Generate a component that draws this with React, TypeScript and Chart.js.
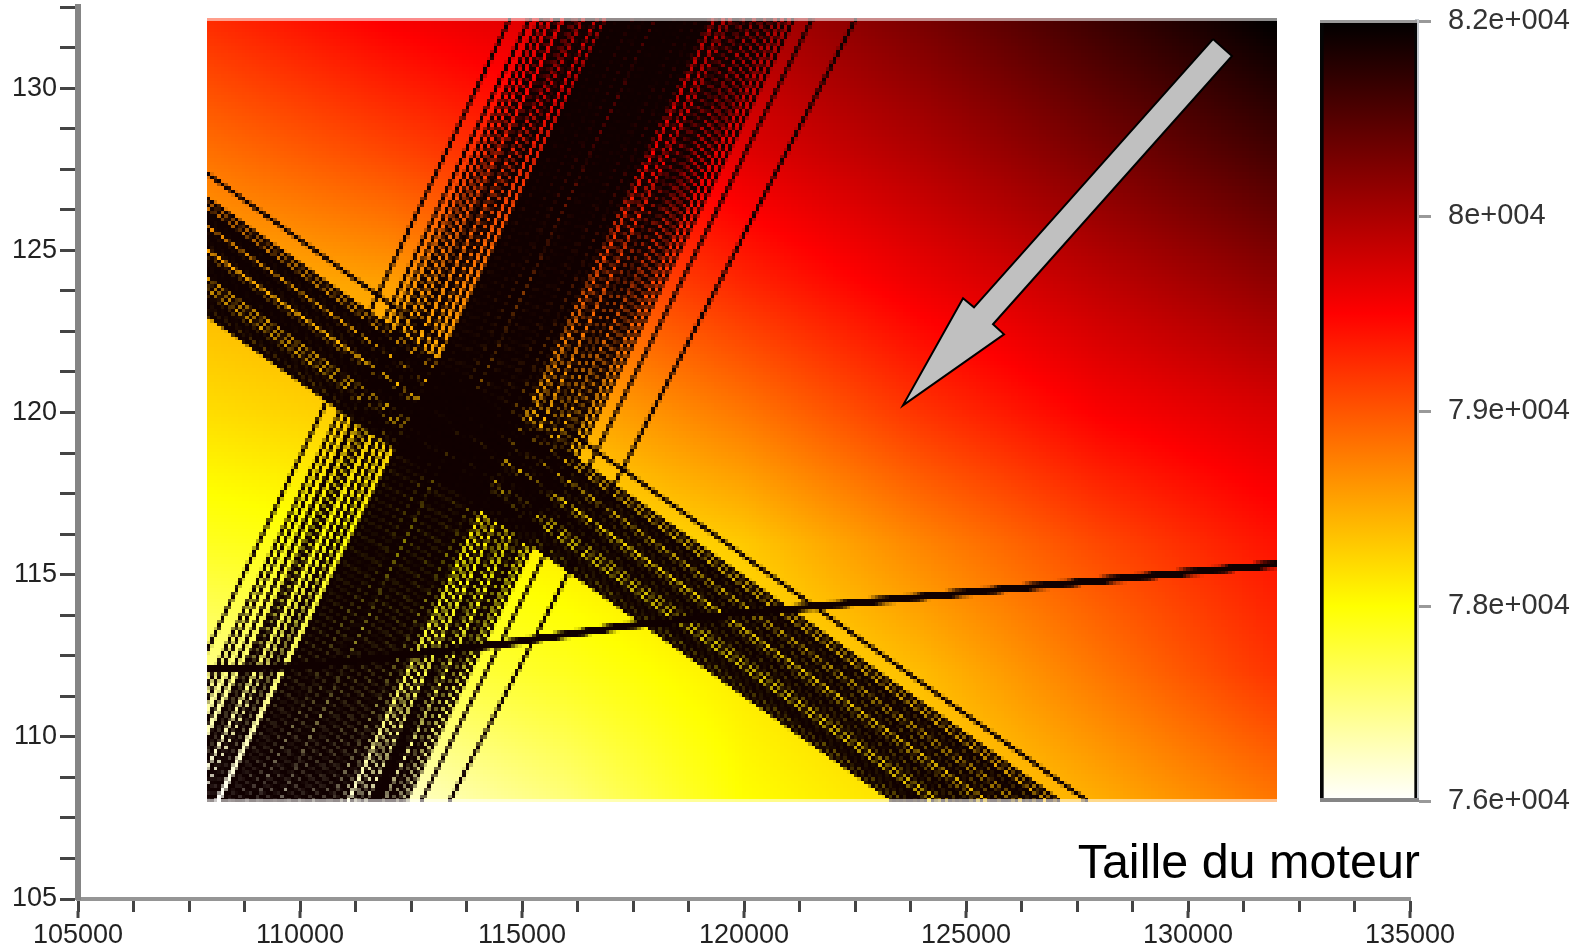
import React, { useEffect, useRef } from "react";
import { Chart, registerables } from "chart.js";

Chart.register(...registerables);

// Axis ranges and ticks
const xAxisMin = 105000;
const xAxisMax = 135000;
const xTickStep = 1250;
const xLabelStep = 5000;
const yAxisMin = 105;
const yAxisMax = 132.5;
const yTickStep = 1.25;
const yLabelStep = 5;
const axisTitle = "Taille du moteur";

// Response surface
const heatXMin = 107905;
const heatXMax = 132000;
const heatYMin = 108;
const heatYMax = 132.15;
const gridX = [108000, 112000, 116000, 120000, 124000, 128000, 132000];
const gridY = [132, 128, 124, 120, 116, 112, 108];
const gridRow132 = [79360, 79780, 80080, 80440, 80920, 81460, 82000];
const gridRow128 = [78760, 79120, 79540, 80020, 80440, 80920, 81400];
const gridRow124 = [78160, 78340, 78880, 79420, 79900, 80320, 80740];
const gridRow120 = [77800, 77980, 78220, 78700, 79300, 79780, 80080];
const gridRow116 = [77320, 77500, 77680, 77980, 78580, 79120, 79600];
const gridRow112 = [76720, 77020, 77320, 77680, 78100, 78700, 79300];
const gridRow108 = [76000, 76300, 76780, 77500, 77800, 78220, 78700];
const gridValues = [gridRow132, gridRow128, gridRow124, gridRow120, gridRow116, gridRow112, gridRow108];

// Colour scale
const cmapValues = [76000, 77500, 79750, 82000];
const cmapColors = [[255, 255, 255], [255, 255, 0], [255, 0, 0], [0, 0, 0]];
const cbarTicks = [76000, 77500, 79000, 80500, 82000];
const cbarLabels = ["7.6e+004", "7.8e+004", "7.9e+004", "8e+004", "8.2e+004"];

// Rising constraint lines, outer groups: x at y = 132 and x at y = 108
const risingTopX = [
  114729, 115170, 115420, 115560, 115740, 115830, 116010, 116090, 116190, 116300, 116440, 116520, 116600, 116740, 116810, 116930,
  119250, 119410, 119480, 119640, 119770, 119860, 119960, 120080, 120160, 120300, 120400, 120530, 120640, 120780, 120950, 121130, 121540, 122520,
];
const risingBottomX = [
  106285, 106660, 106800, 107060, 107010, 107260, 107320, 107480, 107410, 107680, 107620, 107880, 107790, 108040, 107960, 108250,
  111170, 111280, 111430, 111390, 111550, 111620, 111730, 111680, 111830, 111790, 111950, 112010, 112110, 112140, 112250, 112370, 112730, 113370,
];

// Rising constraint lines, dense core
const coreTopX = [
  117000, 117085, 117180, 117260, 117350, 117430, 117530, 117600, 117690, 117790, 117860, 117940, 118050,
  118120, 118210, 118300, 118380, 118470, 118550, 118640, 118740, 118810, 118890, 118990, 119060, 119150,
];
const coreBottomX = [
  108330, 108440, 108540, 108650, 108750, 108860, 108950, 109070, 109170, 109280, 109380, 109480, 109600,
  109700, 109810, 109910, 110020, 110120, 110230, 110340, 110440, 110550, 110650, 110770, 110870, 110990,
];

// Falling constraint lines: y at the left edge and x at y = 108
const fallingLeftY = [
  127.38, 126.6, 126.42, 126.23, 126.11, 125.99, 125.86, 125.65, 125.52, 125.4, 125.28, 125.15, 124.91,
  124.75, 124.63, 124.51, 124.38, 124.26, 124.07, 123.89, 123.7, 123.55, 123.43, 123.3, 123.15, 123.03,
];
const fallingBottomX = [
  127745, 127115, 126935, 126730, 126640, 126485, 126350, 126170, 125990, 125900, 125740, 125605, 125400,
  125220, 125065, 124975, 124820, 124680, 124525, 124320, 124120, 123985, 123850, 123715, 123555, 123400,
];

// Heavy line
const thickX = [107905, 109958, 113103, 114617, 117274, 120291, 132000];
const thickY = [112.07, 112.16, 112.62, 112.87, 113.4, 113.85, 115.31];

// Direction arrow
const arrowX = [130563, 130991, 125608, 125856, 123581, 124933, 125180, 130563];
const arrowY = [131.51, 130.99, 122.72, 122.41, 120.22, 123.52, 123.24, 131.51];

const FONT = "'Liberation Sans', Arial, sans-serif";
const LINE = "#100000";

function colourOf(v: number): number[] {
  if (v <= cmapValues[0]) return cmapColors[0];
  for (let i = 1; i < cmapValues.length; i++) {
    if (v <= cmapValues[i]) {
      const t = (v - cmapValues[i - 1]) / (cmapValues[i] - cmapValues[i - 1]);
      const a = cmapColors[i - 1];
      const b = cmapColors[i];
      return [a[0] + (b[0] - a[0]) * t, a[1] + (b[1] - a[1]) * t, a[2] + (b[2] - a[2]) * t];
    }
  }
  return cmapColors[cmapColors.length - 1];
}

function surfaceAt(x: number, y: number): number {
  const cx = Math.max(gridX[0], Math.min(gridX[gridX.length - 1], x));
  const cy = Math.min(gridY[0], Math.max(gridY[gridY.length - 1], y));
  let i = 0;
  while (i < gridX.length - 2 && cx > gridX[i + 1]) i++;
  let j = 0;
  while (j < gridY.length - 2 && cy < gridY[j + 1]) j++;
  const tx = (cx - gridX[i]) / (gridX[i + 1] - gridX[i]);
  const ty = (cy - gridY[j]) / (gridY[j + 1] - gridY[j]);
  const top = gridValues[j][i] * (1 - tx) + gridValues[j][i + 1] * tx;
  const bot = gridValues[j + 1][i] * (1 - tx) + gridValues[j + 1][i + 1] * tx;
  return top * (1 - ty) + bot * ty;
}

function heatRect(chart: any) {
  const l = Math.round(chart.scales.x.getPixelForValue(heatXMin));
  const r = Math.round(chart.scales.x.getPixelForValue(heatXMax));
  const t = Math.round(chart.scales.y.getPixelForValue(heatYMax));
  const b = Math.round(chart.scales.y.getPixelForValue(heatYMin));
  return { l, t, w: r - l, h: b - t };
}

const heatPlugin = {
  id: "heat",
  beforeDatasetsDraw(chart: any) {
    const { ctx, scales } = chart;
    const { l, t, w, h } = heatRect(chart);
    const image = ctx.createImageData(w, h);
    for (let py = 0; py < h; py++) {
      const vy = scales.y.getValueForPixel(t + py + 0.5);
      for (let px = 0; px < w; px++) {
        const vx = scales.x.getValueForPixel(l + px + 0.5);
        const c = colourOf(surfaceAt(vx, vy));
        const k = (py * w + px) * 4;
        image.data[k] = c[0];
        image.data[k + 1] = c[1];
        image.data[k + 2] = c[2];
        image.data[k + 3] = 255;
      }
    }
    ctx.putImageData(image, l, t);
    ctx.save();
    ctx.beginPath();
    ctx.rect(l, t, w, h);
    ctx.clip();
  },
  afterDatasetDraw(chart: any, args: any) {
    if (args.index !== 1) return;
    const { ctx } = chart;
    ctx.restore();
    const { l, t, w, h } = heatRect(chart);
    const tw = Math.round(w / 3.5);
    const th = Math.round(h / 3.5);
    const low = document.createElement("canvas");
    low.width = tw;
    low.height = th;
    low.getContext("2d")!.drawImage(chart.canvas, l, t, w, h, 0, 0, tw, th);
    ctx.save();
    ctx.imageSmoothingEnabled = false;
    ctx.drawImage(low, 0, 0, tw, th, l, t, w, h);
    ctx.fillStyle = "rgba(255,255,255,0.55)";
    ctx.fillRect(l, t, w, 3);
    ctx.fillRect(l, t + h - 3, w, 3);
    ctx.restore();
  },
  afterDraw(chart: any) {
    const { ctx, scales } = chart;
    ctx.save();
    ctx.strokeStyle = "#444";
    ctx.lineWidth = 3;
    for (const tick of scales.x.ticks) {
      if (tick.value % xLabelStep !== 0) continue;
      const px = scales.x.getPixelForValue(tick.value);
      ctx.beginPath();
      ctx.moveTo(px, scales.x.top + 12);
      ctx.lineTo(px, scales.x.top + 19);
      ctx.stroke();
    }
    ctx.fillStyle = "#000";
    ctx.font = `48.5px ${FONT}`;
    ctx.textAlign = "right";
    ctx.textBaseline = "alphabetic";
    ctx.fillText(axisTitle, scales.x.getPixelForValue(xAxisMax) + 10, scales.x.top - 21);
    ctx.restore();
  },
};

const cbarFramePlugin = {
  id: "cbarFrame",
  afterDatasetsDraw(chart: any) {
    const { ctx, chartArea } = chart;
    ctx.save();
    ctx.fillStyle = "#9a9a9a";
    ctx.fillRect(chartArea.left, chartArea.top - 1, chartArea.right - chartArea.left, 3);
    ctx.fillStyle = "#858585";
    ctx.fillRect(chartArea.left, chartArea.bottom - 3, chartArea.right - chartArea.left + 2, 4);
    ctx.restore();
  },
};

function plainLine(data: { x: number; y: number }[], width: number) {
  return {
    data,
    showLine: true,
    borderColor: LINE,
    borderWidth: width,
    pointRadius: 0,
    tension: 0,
    fill: false,
  };
}

function noPadding(s: any) {
  s.paddingTop = 0;
  s.paddingBottom = 0;
  s.paddingLeft = 0;
  s.paddingRight = 0;
}

export default function App() {
  const mainRef = useRef<HTMLCanvasElement>(null);
  const cbarRef = useRef<HTMLCanvasElement>(null);

  useEffect(() => {
    const datasets: any[] = [
      {
        data: arrowX.map((x, i) => ({ x, y: arrowY[i] })),
        showLine: true,
        borderColor: "#000",
        borderWidth: 2,
        backgroundColor: "#c0c0c0",
        pointRadius: 0,
        tension: 0,
        fill: "shape",
      },
      plainLine(thickX.map((x, i) => ({ x, y: thickY[i] })), 7.5),
    ];
    risingTopX.forEach((x, i) => {
      datasets.push(plainLine([{ x, y: heatYMax }, { x: risingBottomX[i], y: heatYMin }], 3.4));
    });
    coreTopX.forEach((x, i) => {
      datasets.push(plainLine([{ x, y: heatYMax }, { x: coreBottomX[i], y: heatYMin }], 4.1));
    });
    fallingLeftY.forEach((y, i) => {
      datasets.push(plainLine([{ x: heatXMin, y }, { x: fallingBottomX[i], y: heatYMin }], 3.7));
    });

    const main = new Chart(mainRef.current!, {
      type: "scatter",
      data: { datasets },
      plugins: [heatPlugin],
      options: {
        animation: false,
        responsive: false,
        devicePixelRatio: 1,
        layout: { autoPadding: false, padding: { top: 7, right: 169, bottom: 0, left: 0 } },
        plugins: { legend: { display: false }, tooltip: { enabled: false }, title: { display: false } },
        scales: {
          x: {
            type: "linear",
            min: xAxisMin,
            max: xAxisMax,
            afterFit: (s: any) => { s.height = 48; noPadding(s); },
            border: { color: "#959595", width: 4 },
            grid: { drawOnChartArea: false, tickLength: 13, tickWidth: 3, tickColor: "#444" },
            ticks: {
              stepSize: xTickStep,
              autoSkip: false,
              maxRotation: 0,
              minRotation: 0,
              padding: 7,
              color: "#222",
              font: { family: FONT, size: 27 },
              callback: (v: any) => (v % xLabelStep === 0 ? String(v) : ""),
            },
          },
          y: {
            type: "linear",
            min: yAxisMin,
            max: yAxisMax,
            afterFit: (s: any) => { s.width = 78; noPadding(s); },
            border: { color: "#858585", width: 6 },
            grid: { drawOnChartArea: false, tickLength: 18, tickWidth: 3, tickColor: "#444" },
            ticks: {
              stepSize: yTickStep,
              autoSkip: false,
              padding: 3,
              color: "#222",
              font: { family: FONT, size: 27 },
              callback: (v: any) => (v % yLabelStep === 0 ? String(v) : ""),
            },
          },
        },
      },
    } as any);

    const cbar = new Chart(cbarRef.current!, {
      type: "bar",
      data: {
        labels: [""],
        datasets: [
          {
            data: [[cmapValues[0], cmapValues[cmapValues.length - 1]]],
            barPercentage: 1,
            categoryPercentage: 1,
            borderWidth: { left: 4, right: 3, top: 0, bottom: 0 },
            borderColor: "#050505",
            borderSkipped: false,
            backgroundColor: (c: any) => {
              const area = c.chart.chartArea;
              if (!area) return "#000";
              const g = c.chart.ctx.createLinearGradient(0, area.bottom, 0, area.top);
              const lo = cmapValues[0];
              const hi = cmapValues[cmapValues.length - 1];
              cmapValues.forEach((v, i) => {
                const rgb = cmapColors[i];
                g.addColorStop((v - lo) / (hi - lo), `rgb(${rgb[0]},${rgb[1]},${rgb[2]})`);
              });
              return g;
            },
          },
        ],
      },
      plugins: [cbarFramePlugin],
      options: {
        animation: false,
        responsive: false,
        devicePixelRatio: 1,
        layout: { autoPadding: false, padding: { top: 21, right: 0, bottom: 146, left: 20 } },
        plugins: { legend: { display: false }, tooltip: { enabled: false } },
        scales: {
          x: { display: false },
          y: {
            position: "right",
            min: cmapValues[0],
            max: cmapValues[cmapValues.length - 1],
            afterBuildTicks: (s: any) => { s.ticks = cbarTicks.map((value) => ({ value })); },
            afterFit: (s: any) => { s.width = 162; noPadding(s); },
            border: { color: "#c4c8cc", width: 4 },
            grid: { drawOnChartArea: false, tickLength: 14, tickWidth: 3, tickColor: "#999" },
            ticks: {
              autoSkip: false,
              padding: 17,
              color: "#333",
              font: { family: FONT, size: 29 },
              callback: (v: any) => cbarLabels[cbarTicks.indexOf(v)] ?? "",
            },
          },
        },
      },
    } as any);

    return () => {
      main.destroy();
      cbar.destroy();
    };
  }, []);

  return (
    <div style={{ position: "fixed", left: 0, top: 0, width: 1579, height: 947, background: "#fff", overflow: "hidden" }}>
      <canvas ref={mainRef} width={1579} height={947} style={{ position: "absolute", left: 0, top: 0 }} />
      <canvas ref={cbarRef} width={279} height={947} style={{ position: "absolute", left: 1300, top: 0 }} />
    </div>
  );
}
